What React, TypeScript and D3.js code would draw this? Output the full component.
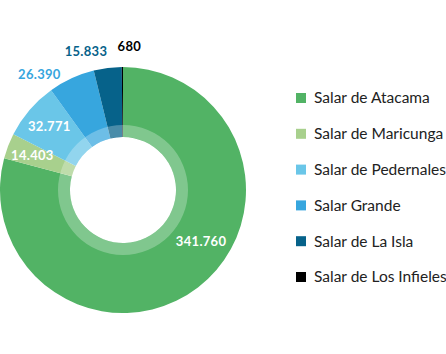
import React from "react";
import * as d3 from "d3";

const categories = ["Salar de Atacama", "Salar de Maricunga", "Salar de Pedernales", "Salar Grande", "Salar de La Isla", "Salar de Los Infieles"];
const values = [341760, 14403, 32771, 26390, 15833, 680];
const labels = ["341.760", "14.403", "32.771", "26.390", "15.833", "680"];
const colors = ["#52b365", "#a8d08d", "#6ac6e8", "#37a6de", "#06628a", "#000000"];
const labelColors = ["#ffffff", "#ffffff", "#ffffff", "#37a6de", "#06628a", "#000000"];

const W = 446, H = 354;
const cx = 123, cy = 190, R = 123, r0 = 53, rRing = 65;

export default function App() {
  const data = categories.map((c, i) => ({ c, v: values[i], i }));
  const pie = d3.pie<any>().sort(null).value((d: any) => d.v);
  const arcs = pie(data);
  const arc = d3.arc<any>().innerRadius(r0).outerRadius(R);
  const ring = d3.arc<any>().innerRadius(r0).outerRadius(rRing).startAngle(0).endAngle(2 * Math.PI);
  const font = "Lato, 'Open Sans', sans-serif";

  const labelPos = (a: any, i: number) => {
    let ang = (a.startAngle + a.endAngle) / 2;
    let rad = 97;
    let anchor = "middle";
    let dx = 0;
    let dy = 0;
    if (i === 0) { ang = a.startAngle + (a.endAngle - a.startAngle) * 0.433; rad = 93.5; }
    if (i >= 3) { ang = a.startAngle; rad = 143; }
    if (i === 4) dx = -3;
    if (i === 5) { anchor = "start"; dx = -4; dy = -1; }
    return { x: cx + Math.sin(ang) * rad + dx, y: cy - Math.cos(ang) * rad + dy, anchor };
  };

  const legendY = d3.scalePoint<string>().domain(categories).range([98, 277]);

  return (
    <svg width={W} height={H} style={{ position: "absolute", left: 0, top: 0, background: "#fff" }}>
      <g transform={`translate(${cx},${cy})`}>
        {arcs.map((a, i) => (
          <path key={i} d={arc(a) as string} fill={colors[i]} />
        ))}
        <path d={ring(null as any) as string} fill="#ffffff" opacity={0.27} />
      </g>
      {arcs.map((a, i) => {
        const p = labelPos(a, i);
        return (
          <text key={i} x={p.x} y={p.y} dy="0.35em" textAnchor={p.anchor as any} fill={labelColors[i]}
            fontFamily={font} fontWeight={700} fontSize={13} letterSpacing={0.3}>{labels[i]}</text>
        );
      })}
      {categories.map((c, i) => (
        <g key={c} transform={`translate(296,${legendY(c)})`}>
          <rect x={0} y={-5} width={10} height={10} fill={colors[i]} />
          <text x={18} y={0} dy="0.35em" fontFamily={font} fontSize={15.5} fill="#222">{c}</text>
        </g>
      ))}
    </svg>
  );
}
